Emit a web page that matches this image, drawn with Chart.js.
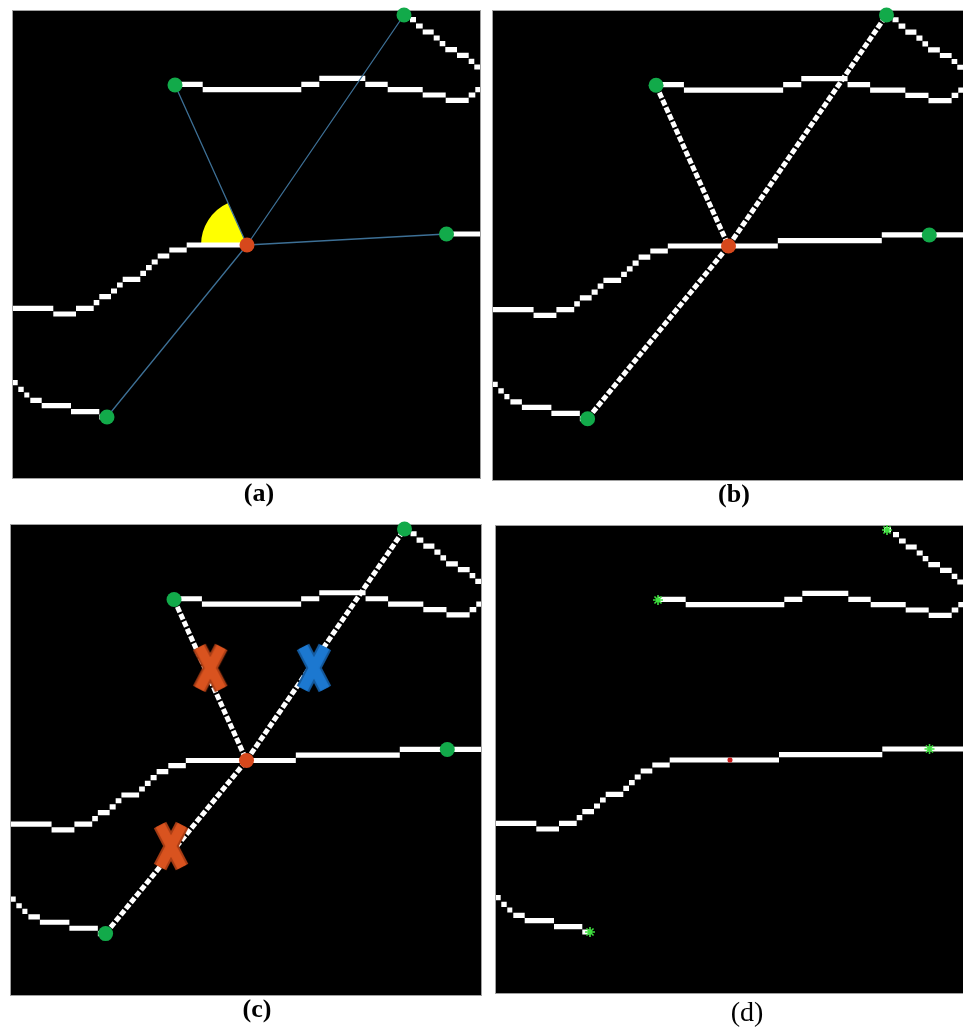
<!DOCTYPE html>
<html>
<head>
<meta charset="utf-8">
<title>Junction detection steps</title>
<script src="https://cdn.jsdelivr.net/npm/chart.js@4.4.1/dist/chart.umd.min.js"></script>
<style>
  html, body { margin: 0; padding: 0; background: #fff; width: 963px; height: 1031px; overflow: hidden; }
  canvas { position: absolute; }
  .lbl { position: absolute; width: 120px; text-align: center; color: #000;
         font-family: "Liberation Serif", "Times New Roman", serif; }
</style>
</head>
<body>
<script>
// Skeleton image coordinates (pixels, origin top-left, y grows downward).
const EXTENT = [0, 467];

// Horizontal pixel runs of each skeleton branch: [xStart, xEnd, row]
const upperRuns = [
  [162, 189.7, 73.3], [189.7, 288.3, 78.7], [288.3, 306.3, 73.3], [306.3, 352.3, 67.3],
  [352.3, 374.7, 73.3], [374.7, 409.7, 78.7], [409.7, 432.7, 84], [432.7, 455.7, 89.3],
  [455.7, 462.3, 84], [462.3, 467, 78.7]
];
const topRightRuns = [
  [388, 395, 3.7], [397, 403, 8.7], [403, 409.7, 15], [409.7, 420.7, 21], [420.7, 426.7, 27],
  [426.7, 432.3, 32.7], [432.3, 444, 38.7], [444, 455.7, 44.3], [455.7, 461.3, 50.3],
  [461.3, 467, 56]
];
const middleRuns = [
  [0, 40.3, 297.3], [40.3, 63, 303], [63, 80.7, 297.3], [80.7, 86.3, 291.7], [86.3, 98, 285.7],
  [98, 104, 280], [104, 109.7, 274], [109.7, 127.3, 268.3], [127.3, 133, 262.3],
  [133, 138.7, 256.7], [138.7, 144.7, 251], [144.7, 156.3, 245], [156.3, 173.7, 239],
  [173.7, 283, 234], [283, 386.3, 228.7], [386.3, 467, 223]
];
const lowerRuns = [
  [0, 4.7, 371.7], [5.3, 10.7, 378.3], [11.3, 16.3, 384], [17.3, 28.7, 389.3],
  [28.7, 58, 394.7], [58, 86.3, 400.7], [86.3, 94.7, 406]
];

// Branch end points (green) and the junction point (red)
const endX = [162, 391, 433.5, 94];
const endY = [74, 4, 223, 406];
const junctionX = 234;
const junctionY = 234;

// Rejected (orange) and accepted (blue) candidate branches
const rejectX = [198, 159];
const rejectY = [142, 319];
const acceptX = [301];
const acceptY = [142];

const panelLabels = ['(a)', '(b)', '(c)', '(d)'];

// ---------- helpers ----------
function runsToPoints(runs) {
  const pts = [];
  runs.forEach(([x0, x1, y]) => { pts.push({ x: x0, y }, { x: x1, y }, { x: x1, y: null }); });
  return pts;
}
function cutRuns(runs, from, to) {
  const out = [];
  runs.forEach(([x0, x1, y]) => {
    if (x1 <= from || x0 >= to) { out.push([x0, x1, y]); return; }
    if (x0 < from) out.push([x0, from, y]);
    if (x1 > to) out.push([to, x1, y]);
  });
  return out;
}
function segments(pairs) {
  const pts = [];
  pairs.forEach(([a, b]) => { pts.push(a, b, { x: b.x, y: null }); });
  return pts;
}
const P = (x, y) => ({ x, y });
const junction = P(junctionX, junctionY);
const ends = endX.map((x, i) => P(x, endY[i]));

function skeletonDS(middle) {
  return {
    data: [upperRuns, topRightRuns, middle, lowerRuns].flatMap(runsToPoints),
    showLine: true, spanGaps: false, borderColor: '#ffffff', borderWidth: 5.2,
    borderCapStyle: 'butt', pointRadius: 0, clip: 0, order: 5
  };
}
function endDotsDS() {
  return { data: ends, pointRadius: 7.5, backgroundColor: '#12aa4a', borderWidth: 0, clip: false, order: 1 };
}
function junctionDS(r) {
  return { data: [junction], pointRadius: r, backgroundColor: '#d6481c', borderWidth: 0, clip: false, order: 0 };
}
function traceDS() {
  return {
    data: segments([[ends[0], junction], [ends[3], junction], [junction, ends[1]]]),
    showLine: true, spanGaps: false, borderColor: '#ffffff', borderWidth: 5,
    borderDash: [6, 2], borderCapStyle: 'butt', pointRadius: 0, clip: 0, order: 4
  };
}
function crossGlyph(fill, edge) {
  const c = document.createElement('canvas');
  c.width = 38; c.height = 50;
  const g = c.getContext('2d');
  g.lineCap = 'butt';
  [[edge, 14], [fill, 10]].forEach(([col, w]) => {
    g.strokeStyle = col; g.lineWidth = w;
    g.beginPath(); g.moveTo(8, 4); g.lineTo(30, 46); g.moveTo(30, 4); g.lineTo(8, 46); g.stroke();
  });
  return c;
}

const framePlugin = {
  id: 'frame',
  beforeDraw(chart) {
    const { ctx, chartArea: a } = chart;
    ctx.save();
    ctx.fillStyle = '#000';
    ctx.fillRect(a.left, a.top, a.width, a.height);
    ctx.strokeStyle = '#a0a0a0';
    ctx.lineWidth = 1;
    ctx.strokeRect(a.left - 0.5, a.top - 0.5, a.width + 1, a.height + 1);
    ctx.restore();
  }
};
// Angle sector between the incoming branch and the branch to the first end point
const sectorPlugin = {
  id: 'sector',
  beforeDatasetsDraw(chart) {
    const { ctx, scales: { x, y } } = chart;
    const cx = x.getPixelForValue(junctionX), cy = y.getPixelForValue(junctionY);
    const ex = x.getPixelForValue(endX[0]), ey = y.getPixelForValue(endY[0]);
    const a0 = Math.atan2(ey - cy, ex - cx);
    ctx.save();
    ctx.fillStyle = '#ffff00';
    ctx.beginPath();
    ctx.moveTo(cx, cy);
    ctx.arc(cx, cy, 46, a0, -Math.PI, true);
    ctx.closePath();
    ctx.fill();
    ctx.restore();
  }
};

const PAD = 12;
function makePanel(box, datasets, plugins) {
  const cv = document.createElement('canvas');
  cv.width = box.w + 2 * PAD; cv.height = box.h + 2 * PAD;
  cv.style.left = (box.left - PAD) + 'px';
  cv.style.top = (box.top - PAD) + 'px';
  document.body.appendChild(cv);
  new Chart(cv, {
    type: 'scatter',
    data: { datasets },
    options: {
      responsive: false, animation: false, events: [],
      layout: { padding: PAD },
      scales: {
        x: { type: 'linear', min: EXTENT[0], max: EXTENT[1], display: false },
        y: { type: 'linear', min: EXTENT[0], max: EXTENT[1], reverse: true, display: false }
      },
      plugins: { legend: { display: false }, tooltip: { enabled: false } }
    },
    plugins: [framePlugin].concat(plugins || [])
  });
}
function addLabel(text, cx, top, size, weight) {
  const d = document.createElement('div');
  d.className = 'lbl';
  d.textContent = text;
  d.style.left = (cx - 60) + 'px';
  d.style.top = top + 'px';
  d.style.fontSize = size + 'px';
  d.style.lineHeight = size + 'px';
  d.style.fontWeight = weight;
  document.body.appendChild(d);
}

// (a) junction with straight connections and the measured angle
makePanel({ left: 13, top: 11, w: 467, h: 467 }, [
  skeletonDS(cutRuns(middleRuns, junctionX, endX[2])),
  {
    data: segments(ends.map(e => [junction, e])),
    showLine: true, spanGaps: false, borderColor: '#3d7096', borderWidth: 1.3,
    pointRadius: 0, clip: 0, order: 3
  },
  endDotsDS(),
  junctionDS(7.5)
], [sectorPlugin]);

// (b) branches traced back to the junction
makePanel({ left: 493, top: 11, w: 470, h: 469 }, [
  skeletonDS(middleRuns), traceDS(), endDotsDS(), junctionDS(7.5)
]);

// (c) candidate branches marked as rejected or accepted
makePanel({ left: 11, top: 525, w: 470, h: 470 }, [
  skeletonDS(middleRuns), traceDS(),
  { data: rejectX.map((x, i) => P(x, rejectY[i])), pointStyle: crossGlyph('#d9531f', '#a93d15'),
    clip: false, order: 2 },
  { data: acceptX.map((x, i) => P(x, acceptY[i])), pointStyle: crossGlyph('#1c78d0', '#145a9e'),
    clip: false, order: 2 },
  endDotsDS(), junctionDS(7.5)
]);

// (d) resulting skeleton with end points and junction
makePanel({ left: 496, top: 526, w: 467, h: 467 }, [
  skeletonDS(middleRuns),
  { data: ends, pointStyle: 'star', pointRadius: 5, borderColor: '#3ee03e', borderWidth: 1.6,
    backgroundColor: '#3ee03e', clip: false, order: 1 },
  { data: [junction], pointStyle: 'star', pointRadius: 2.6, borderColor: '#c81a1a', borderWidth: 1.6,
    backgroundColor: '#c81a1a', clip: false, order: 0 }
]);

addLabel(panelLabels[0], 259, 480, 26, 'bold');
addLabel(panelLabels[1], 734, 481, 26, 'bold');
addLabel(panelLabels[2], 257, 996, 26, 'bold');
addLabel(panelLabels[3], 747, 998, 28, 'normal');
</script>
</body>
</html>
